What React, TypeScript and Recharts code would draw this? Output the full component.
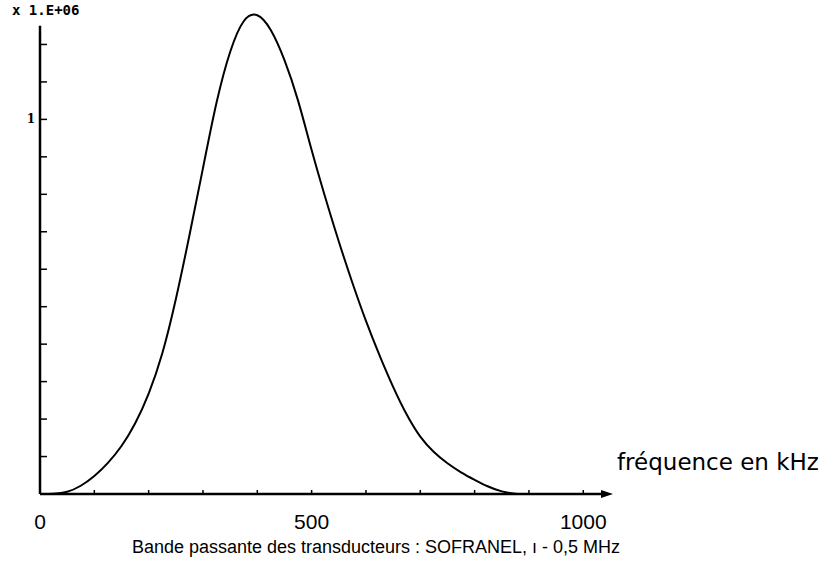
import { Line, LineChart, ReferenceLine, XAxis, YAxis } from "recharts";

// frequency in kHz, amplitude in units of 1.E+06
const freqs = [0, 25, 50, 75, 100, 125, 150, 175, 200, 225, 250, 275, 300, 325, 350, 375, 400, 425, 450, 475, 500, 525, 550, 575, 600, 625, 650, 675, 700, 725, 750, 775, 800, 825, 850, 875, 900, 950, 1000];
const amps = [0, 0.001, 0.006, 0.022, 0.048, 0.083, 0.128, 0.188, 0.268, 0.375, 0.52, 0.69, 0.87, 1.045, 1.18, 1.262, 1.278, 1.238, 1.158, 1.05, 0.918, 0.792, 0.674, 0.564, 0.462, 0.37, 0.286, 0.212, 0.153, 0.112, 0.082, 0.058, 0.038, 0.02, 0.007, 0.001, 0, 0, 0];

const xTicks = [0, 100, 200, 300, 400, 500, 600, 700, 800, 900, 1000];
const xLabels = [0, 500, 1000];
const yTicks = [0.1, 0.2, 0.3, 0.4, 0.5, 0.6, 0.7, 0.8, 0.9, 1, 1.1, 1.2];
const yLabels = [1];

const axisTitle = "fréquence en kHz";
const caption = "Bande passante des transducteurs : SOFRANEL, ı - 0,5 MHz";
const scaleNote = "x 1.E+06";

const data = freqs.map((f, i) => ({ f, a: amps[i] }));

const XTick = (props: any) => {
  const { x, y, payload } = props;
  return (
    <g>
      <line x1={x} y1={y} x2={x} y2={y - 4} stroke="#000" strokeWidth={1.5} />
      {xLabels.includes(payload.value) && (
        <text x={x} y={y + 35} textAnchor="middle" fontFamily="'Liberation Sans', sans-serif" fontSize={21} fill="#000">
          {payload.value}
        </text>
      )}
    </g>
  );
};

const YTick = (props: any) => {
  const { x, y, payload } = props;
  return (
    <g>
      <line x1={x} y1={y} x2={x + 7} y2={y} stroke="#000" strokeWidth={1.5} />
      {yLabels.includes(payload.value) && (
        <text x={x - 5} y={y + 4} textAnchor="end" fontFamily="'DejaVu Serif', serif" fontWeight="bold" fontSize={12} fill="#000">
          {payload.value}
        </text>
      )}
    </g>
  );
};

const ArrowLabel = (props: any) => {
  const { x, y, width } = props.viewBox;
  const end = x + width;
  return (
    <g>
      <polygon points={`${end - 4},${y - 4} ${end + 8},${y} ${end - 4},${y + 4}`} fill="#000" />
      <text x={end + 12} y={y - 24} fontFamily="'DejaVu Sans', sans-serif" fontSize={23} fill="#000">
        {axisTitle}
      </text>
    </g>
  );
};

export default function App() {
  return (
    <div style={{ position: "absolute", left: 0, top: 0, width: 835, height: 565, background: "#fff" }}>
      <div style={{ position: "absolute", left: 12, top: 2, fontFamily: "'DejaVu Sans Mono', monospace", fontWeight: "bold", fontSize: 14 }}>
        {scaleNote}
      </div>
      <LineChart width={835} height={565} data={data} margin={{ top: 7, right: 230, bottom: 41, left: 10 }}>
        <XAxis
          dataKey="f"
          type="number"
          domain={[0, 1040]}
          ticks={xTicks}
          interval={0}
          height={30}
          tickSize={0}
          tickMargin={0}
          tickLine={false}
          tick={<XTick />}
          axisLine={{ stroke: "#000", strokeWidth: 2.5 }}
          label={<ArrowLabel />}
        />
        <YAxis
          type="number"
          domain={[0, 1.3]}
          ticks={yTicks}
          interval={0}
          width={30}
          tickSize={0}
          tickMargin={0}
          tickLine={false}
          tick={<YTick />}
          axisLine={false}
        />
        <ReferenceLine segment={[{ x: 0, y: 0 }, { x: 0, y: 1.25 }]} stroke="#000" strokeWidth={2.5} />
        <Line type="natural" dataKey="a" stroke="#000" strokeWidth={2} dot={false} isAnimationActive={false} />
      </LineChart>
      <div style={{ position: "absolute", left: 0, width: 752, top: 537, textAlign: "center", fontFamily: "'Liberation Sans', sans-serif", fontSize: 18 }}>
        {caption}
      </div>
    </div>
  );
}
